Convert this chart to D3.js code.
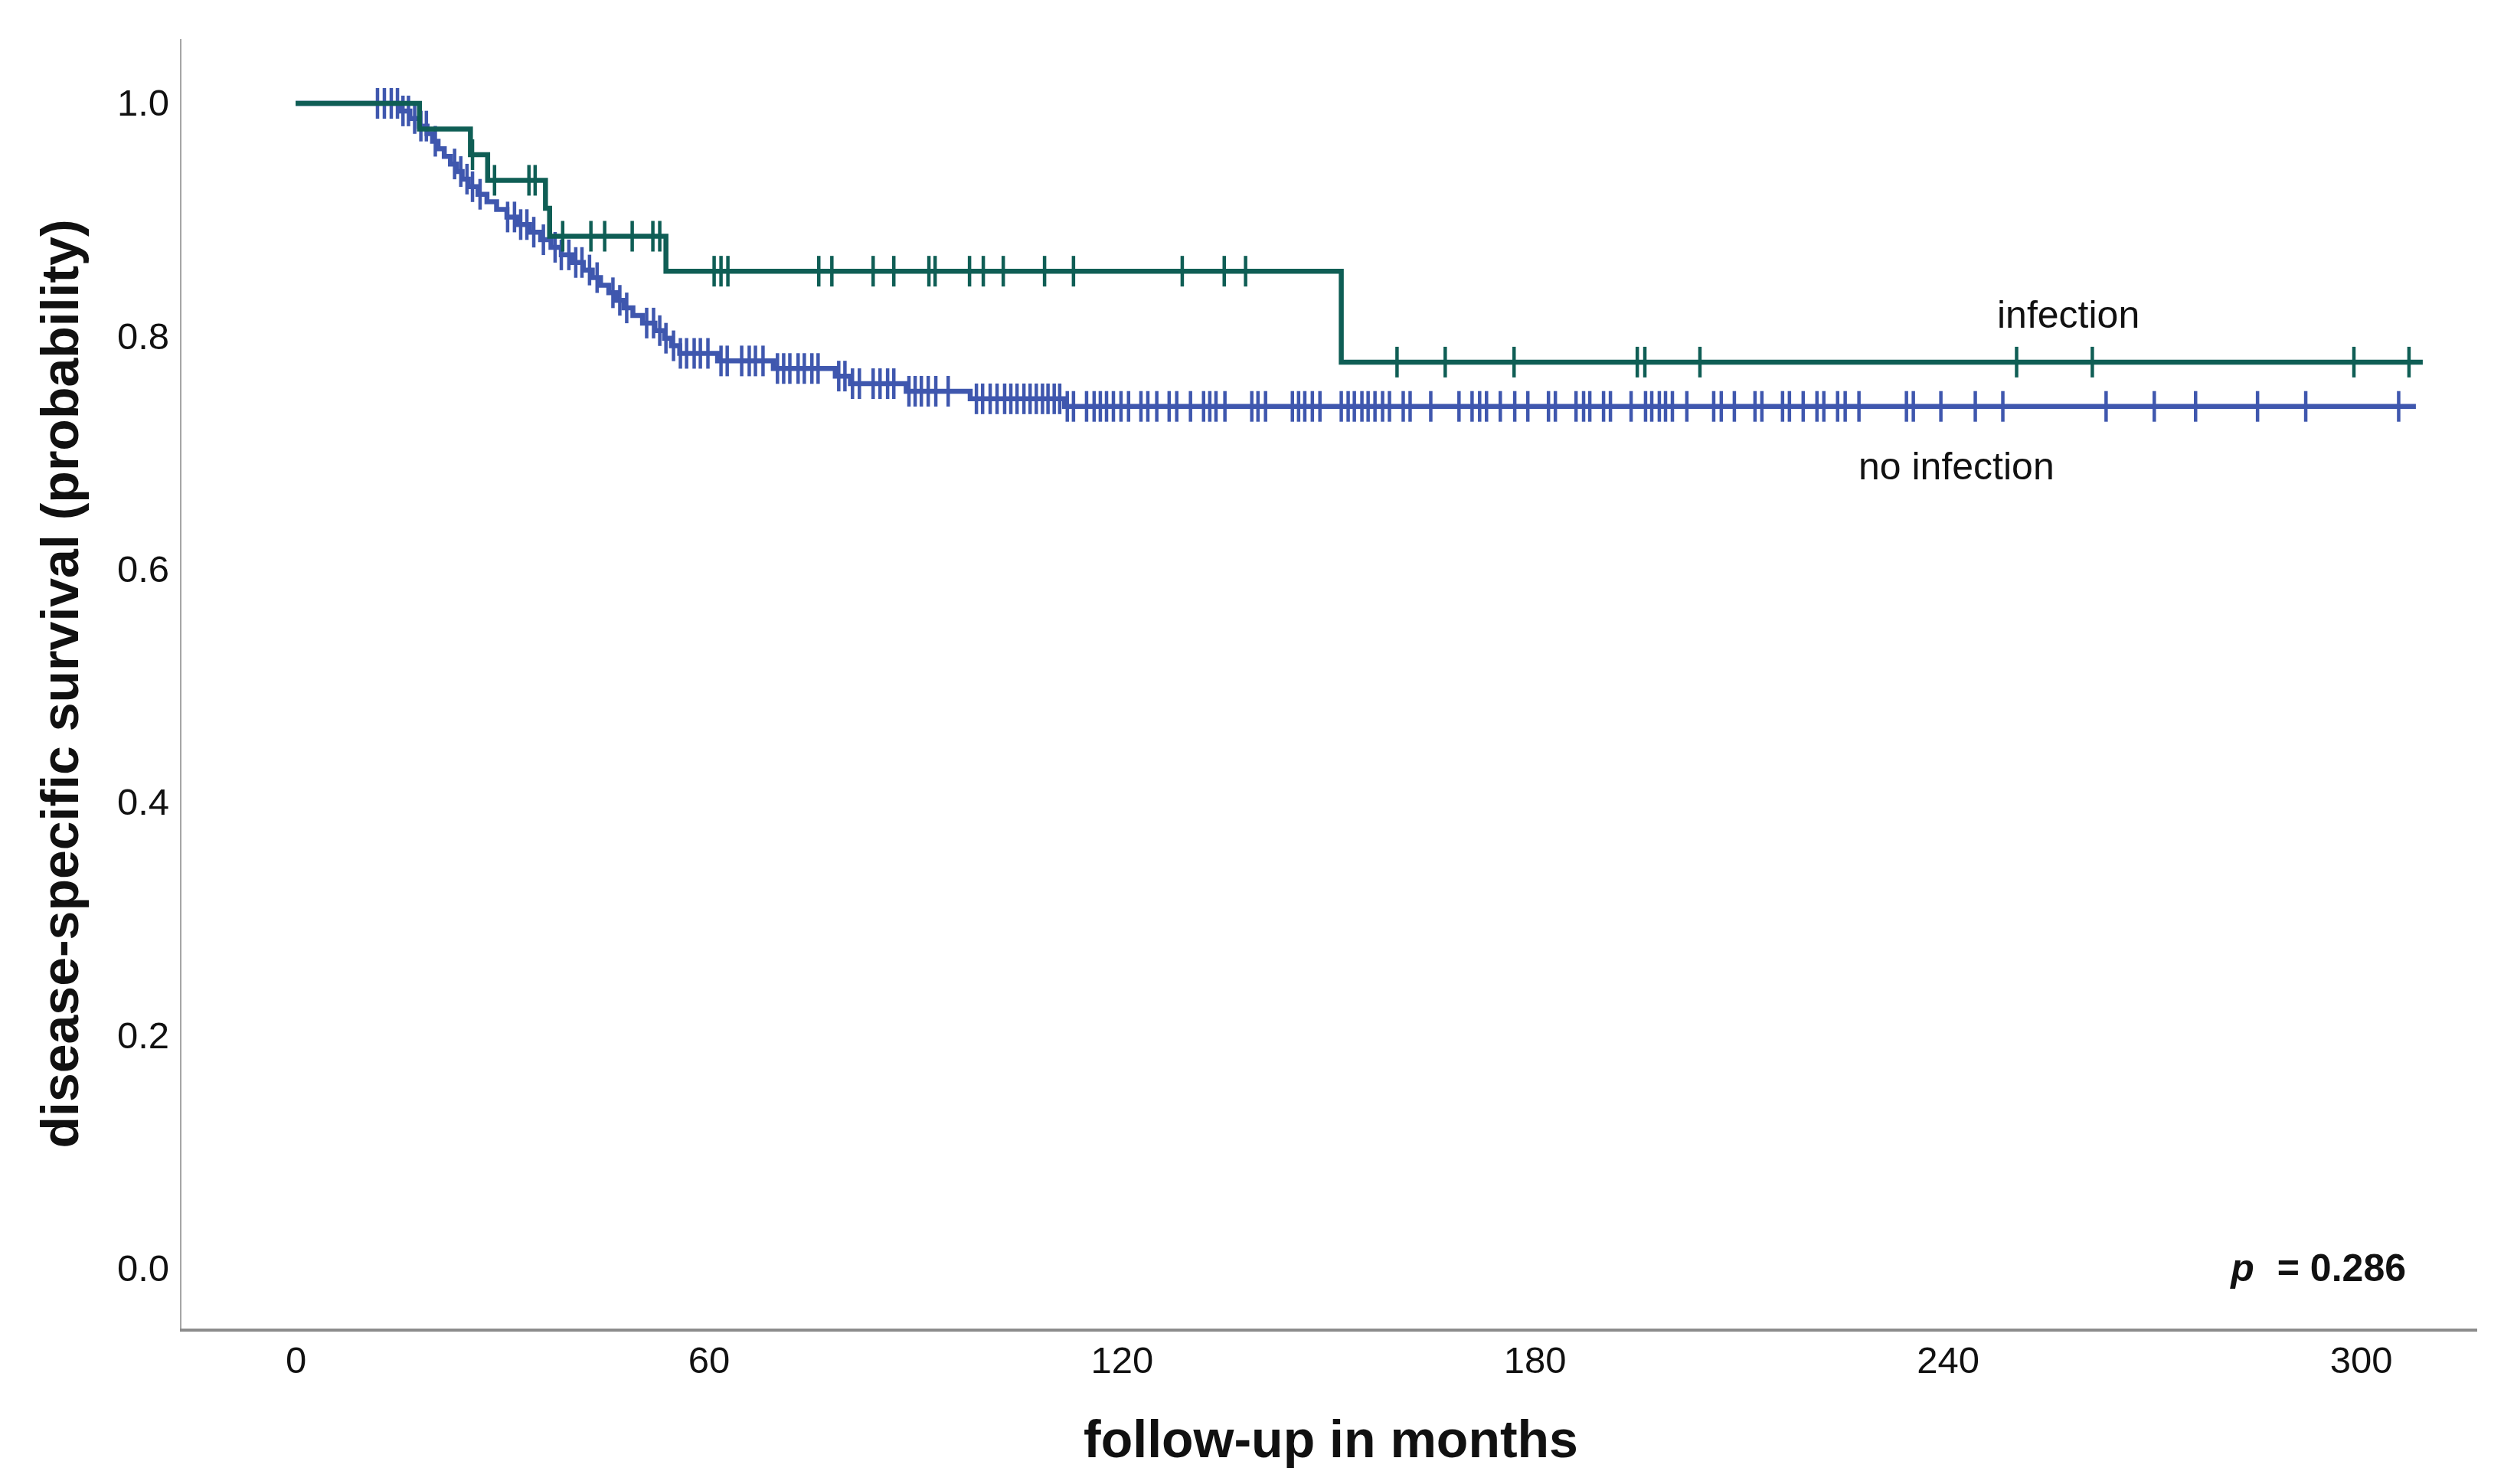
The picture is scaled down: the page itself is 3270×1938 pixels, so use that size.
<!DOCTYPE html>
<html>
<head>
<meta charset="utf-8">
<script src="https://cdn.jsdelivr.net/npm/d3@7"></script>
<style>
  html, body { margin: 0; padding: 0; background: #fff; }
  svg { display: block; }
  text { font-family: "Liberation Sans", Arial, Helvetica, sans-serif; }
</style>
</head>
<body>
<svg id="chart" width="3270" height="1938"></svg>
<script>
// ---------------- data ----------------
const xTicks = [0, 60, 120, 180, 240, 300];
const yTicks = [0.0, 0.2, 0.4, 0.6, 0.8, 1.0];

// Kaplan-Meier steps [month, survival after event]
const infectionSteps = [
  [0, 1.0], [18.0, 0.978], [25.4, 0.956], [27.9, 0.934],
  [36.3, 0.910], [36.9, 0.886], [53.8, 0.856], [151.9, 0.778]
];
const infectionCensored = [
  25.7, 28.9, 33.9, 34.8, 38.8, 42.9, 44.9, 48.9, 51.9, 52.9,
  60.8, 61.8, 62.8, 76.0, 77.9, 83.9, 86.9, 92.0, 92.9, 97.9,
  99.9, 102.8, 108.8, 113.0, 128.8, 134.9, 138.0, 160.0, 167.0,
  177.0, 194.9, 196.0, 204.0, 250.0, 261.0, 299.0, 307.0
];
const infectionEnd = 309;

const noInfectionSteps = [
  [0, 1.0], [15.3, 0.9935], [16.6, 0.987], [18.0, 0.9805], [19.1, 0.974],
  [19.9, 0.9675], [20.7, 0.961], [21.6, 0.9545], [22.5, 0.948], [23.4, 0.9415],
  [24.2, 0.935], [25.1, 0.9285], [26.5, 0.922], [27.8, 0.9155], [29.2, 0.909],
  [30.7, 0.9025], [32.2, 0.896], [34.0, 0.8895], [35.6, 0.883], [37.1, 0.8765],
  [38.6, 0.870], [40.2, 0.8635], [41.8, 0.857], [43.1, 0.8505], [44.3, 0.844],
  [45.5, 0.8375], [46.6, 0.831], [47.7, 0.8245], [49.0, 0.818], [50.4, 0.8115],
  [52.2, 0.805], [53.6, 0.7985], [54.6, 0.792], [55.8, 0.7855], [61.3, 0.779],
  [69.4, 0.7725], [78.4, 0.766], [80.6, 0.7595], [88.7, 0.753], [98.0, 0.7465],
  [111.7, 0.740]
];
const noInfectionCensored = [
  11.9, 12.9, 13.9, 14.8, 15.6, 16.4, 17.3, 18.2, 19.0, 20.3, 23.1, 24.0, 24.9,
  25.7, 26.8, 30.8, 31.8, 32.7, 33.6, 34.6, 36.0, 37.7, 38.6, 39.7, 40.7,
  41.6, 42.7, 43.8, 46.1, 47.1, 48.1, 51.0, 52.0, 52.9, 53.8, 54.9, 55.9,
  56.8, 57.9, 58.8, 59.9, 61.8, 62.7, 64.8, 65.9, 66.8, 67.9, 70.0, 70.9,
  71.8, 73.0, 73.9, 75.0, 75.9, 78.9, 79.8, 80.9, 81.9, 83.9, 84.9, 86.0,
  86.9, 89.1, 90.0, 90.9, 91.9, 93.0, 94.8, 98.9, 99.8, 100.9, 101.9, 103.0,
  103.9, 104.8, 105.8, 106.7, 107.6, 108.5, 109.3, 110.2, 111.0, 112.1, 113.0,
  114.9, 116.0, 116.9, 117.8, 118.8, 119.9, 121.0, 122.8, 123.8, 125.1, 126.9,
  128.0, 130.0, 131.9, 132.8, 133.7, 135.0, 138.9, 139.8, 140.9, 144.8, 145.7,
  146.6, 147.7, 148.8, 151.9, 152.9, 153.8, 154.9, 155.8, 156.8, 157.9, 158.9,
  160.9, 161.9, 164.9, 169.0, 170.9, 172.0, 173.0, 175.0, 177.1, 179.0, 182.0,
  183.0, 186.0, 187.1, 188.0, 190.0, 191.0, 194.0, 196.1, 197.0, 198.1, 199.0,
  200.0, 202.1, 206.0, 207.1, 209.0, 212.0, 213.0, 216.0, 217.0, 219.0, 221.0,
  222.0, 224.0, 225.1, 227.1, 234.0, 235.0, 239.0, 244.0, 248.0, 263.0, 270.0,
  276.0, 285.0, 292.0, 305.5
];
const noInfectionEnd = 308;

const groupLabels = ["infection", "no infection"];
const pValueText = "= 0.286";

// ---------------- drawing ----------------
const svg = d3.select("#chart");
const x = d3.scaleLinear().domain([0, 300]).range([386, 3083]);
const y = d3.scaleLinear().domain([0, 1]).range([1657, 135]);

const colInf = "#0f5e55";
const colNo = "#3f57ae";
const axisCol = "#8c8c8c";

// axis lines (frame)
svg.append("line").attr("x1", 236).attr("x2", 236).attr("y1", 51).attr("y2", 1737)
  .attr("stroke", "#a6a6a6").attr("stroke-width", 2);
svg.append("line").attr("x1", 235).attr("x2", 3235).attr("y1", 1737).attr("y2", 1737)
  .attr("stroke", axisCol).attr("stroke-width", 4);

// Y axis
const gy = svg.append("g").attr("transform", "translate(236,0)")
  .call(d3.axisLeft(y).tickValues(yTicks).tickFormat(d3.format(".1f"))
    .tickSize(0).tickPadding(15));
gy.select(".domain").remove();
gy.selectAll("text").attr("font-size", 49).attr("fill", "#111")
  .attr("font-family", "Liberation Sans, Arial, sans-serif");

// X axis
const gx = svg.append("g").attr("transform", "translate(0,1737)")
  .call(d3.axisBottom(x).tickValues(xTicks).tickFormat(d3.format("d"))
    .tickSize(0).tickPadding(21));
gx.select(".domain").remove();
gx.selectAll("text").attr("font-size", 49).attr("fill", "#111")
  .attr("font-family", "Liberation Sans, Arial, sans-serif");

// axis titles
svg.append("text").attr("x", 1738).attr("y", 1903).attr("text-anchor", "middle")
  .attr("font-size", 68).attr("font-weight", "bold").attr("fill", "#111")
  .text("follow-up in months");
svg.append("text").attr("transform", "translate(102,893) rotate(-90)")
  .attr("text-anchor", "middle").attr("font-size", 68).attr("font-weight", "bold")
  .attr("fill", "#111").text("disease-specific survival (probability)");

// KM curves
function drawKM(steps, censored, endT, color) {
  const pts = steps.map(d => [d[0], d[1]]);
  pts.push([endT, steps[steps.length - 1][1]]);
  const line = d3.line().x(d => x(d[0])).y(d => y(d[1])).curve(d3.curveStepAfter);
  const g = svg.append("g");
  g.append("path").datum(pts).attr("d", line).attr("fill", "none")
    .attr("stroke", color).attr("stroke-width", 6.5).attr("stroke-linejoin", "miter");
  const bis = d3.bisector(d => d[0]).right;
  const survAt = t => steps[Math.max(0, bis(steps, t) - 1)][1];
  g.append("g").selectAll("line").data(censored).join("line")
    .attr("x1", d => x(d)).attr("x2", d => x(d))
    .attr("y1", d => y(survAt(d)) - 20).attr("y2", d => y(survAt(d)) + 20)
    .attr("stroke", color).attr("stroke-width", 4.5);
}
drawKM(noInfectionSteps, noInfectionCensored, noInfectionEnd, colNo);
drawKM(infectionSteps, infectionCensored, infectionEnd, colInf);

// group labels
svg.append("text").attr("x", 2608).attr("y", 428).attr("font-size", 50)
  .attr("fill", "#111").text(groupLabels[0]);
svg.append("text").attr("x", 2427).attr("y", 626).attr("font-size", 50)
  .attr("fill", "#111").text(groupLabels[1]);

// p value
const pt = svg.append("text").attr("x", 3142).attr("y", 1673).attr("text-anchor", "end")
  .attr("font-size", 50).attr("font-weight", "bold").attr("fill", "#111");
pt.append("tspan").attr("font-style", "italic").text("p");
pt.append("tspan").attr("dx", 30).text(pValueText);
</script>
</body>
</html>
